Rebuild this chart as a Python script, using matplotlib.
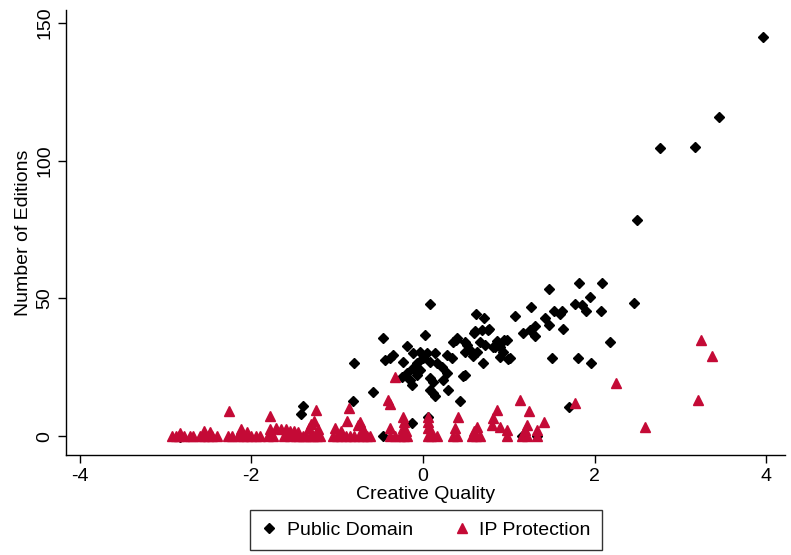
import numpy as np
import matplotlib
matplotlib.use("Agg")
import matplotlib.pyplot as plt

plt.rcParams['font.family'] = ['Liberation Sans', 'DejaVu Sans']
plt.rcParams['axes.unicode_minus'] = False

# ---------- data ----------
# Public Domain (black diamonds): creative quality, number of editions
pd_x = [3.96, 3.45, 3.17, 2.76, 2.49, 2.46, 2.18, 2.09, 2.07, 1.96, 1.95, 1.90, 1.86,
        1.82, 1.81, 1.77, 1.70, 1.62, 1.60, 1.63, 1.53, 1.50, 1.47, 1.47, 1.42, 1.31,
        1.31, 1.25, 1.17, 1.26, 1.07, 1.01, 0.98, 0.93, 0.90, 0.82, 0.72, 0.66, 0.77,
        0.69, 0.61, 0.71, 0.62, 0.58, 0.49, 0.49, 0.40, 0.35, 0.51, 0.70, 0.43, 0.47,
        0.38, 0.08, 0.02, -0.19, -0.47, -0.80, -0.58, -0.82, -1.40, -1.42, -2.83,
        -0.47, -0.13, 0.06, 1.15, 1.33,
        -0.44, -0.38, -0.35, -0.23, -0.12, -0.03, 0.05, 0.14, 0.28, 0.34, 0.00, 0.08,
        -0.07, -0.12, -0.03, 0.16, 0.22, -0.19, -0.24, -0.15, -0.07, -0.13, 0.08, 0.12,
        0.23, 0.28, 0.49, 0.08, 0.12, 0.29, 0.55, 0.63, 0.76, 0.59, 0.86, 0.94, 0.84,
        0.99, 0.90, 0.14]
pd_y = [145, 116, 105, 104.5, 78.5, 48.5, 34, 55.5, 45.5, 26.5, 50.5, 45.5, 47.5,
        55.5, 28.5, 48, 10.5, 45.5, 44.5, 39, 45.5, 28.5, 53.5, 40.5, 43, 40,
        36.5, 38.5, 37.5, 47, 43.5, 28.5, 35, 30.5, 32.5, 32.5, 33, 34, 39,
        38.5, 38, 43, 44.5, 29, 30.5, 34, 35.5, 34, 33, 26.5, 12.7, 21.8,
        35, 48, 36.7, 32.7, 35.6, 26.5, 16, 12.7, 10.9, 8, -0.5,
        0, 4.7, 7, 0, 0,
        27.6, 28.3, 29.4, 26.9, 30.1, 30.5, 30.1, 30.1, 29.4, 28.3, 28.3, 26.9,
        26.5, 24.7, 24.0, 26.5, 25.1, 22.9, 21.4, 20.3, 22.1, 18.5, 21.1, 19.6,
        20.3, 22.9, 22.1, 16.7, 15.6, 16.7, 31.2, 30.5, 38.5, 37.4, 34.5, 34.9, 32.3,
        28, 28.7, 14.5]

# IP Protection (red triangles)
ip_x = [-2.93, -2.88, -2.84, -2.78, -2.72, -2.68, -2.60, -2.55, -2.50, -2.46, -2.40,
        -2.27, -2.22, -2.15, -2.10, -2.05, -2.00, -1.95, -1.90,
        -1.80, -1.75, -1.62, -1.55,
        -1.48, -1.44, -1.40, -1.36, -1.32, -1.28, -1.24, -1.20,
        -1.05, -1.00, -0.95, -0.90, -0.85, -0.80, -0.75, -0.70, -0.65, -0.62,
        -0.38, -0.33, -0.27, -0.22, -0.18,
        0.06, 0.10, 0.16, 0.35, 0.40, 0.57, 0.62, 0.66, 0.98, 1.15, 1.21, 1.33,
        -2.83, -2.55, -2.48, -2.12, -2.05, -1.78, -1.71, -1.65, -1.60, -1.55, -1.50,
        -1.45, -1.33, -1.30, -1.25, -1.27, -1.22, -2.26, -1.78,
        -1.03, -0.95, -0.89, -0.86, -0.76, -0.73, -0.70,
        -0.41, -0.38, -0.33, -0.38, -0.23, -0.22, -0.23, -0.20,
        0.06, 0.06, 0.06, 0.10, 0.41, 0.37, 0.63, 0.60,
        0.86, 0.82, 0.80, 0.90, 0.98, 1.13, 1.24, 1.41, 1.21, 1.19, 1.33,
        1.77, 2.25, 2.59, 3.24, 3.37, 3.21]
ip_y = [0] * 58 + [
        1, 2, 1.5, 2.5, 1.5, 2.5, 3, 2.5, 2.5, 2, 2,
        1.5, 3, 4.5, 9.3, 5.5, 2.5, 9.1, 7.3,
        3, 2, 5.4, 10.3, 4, 5.2, 2.5,
        13, 11.5, 21.4, 3, 6.9, 5, 3, 2,
        5, 3, 7, 2, 7, 3, 3.3, 2,
        9.4, 6.5, 4, 3.3, 2.2, 13.1, 9.1, 5, 4, 2.2, 2.2,
        12, 19.4, 3.2, 35, 29, 13.1]

xticks = [-4, -2, 0, 2, 4]
yticks = [0, 50, 100, 150]

# ---------- plot ----------
fig = plt.figure(figsize=(7.91, 5.55), dpi=100)
ax = fig.add_axes([0.0834, 0.180, 0.909, 0.802])

ax.plot(pd_x, pd_y, ls="none", marker="D", ms=5, color="black", label="Public Domain")
ax.plot(ip_x, ip_y, ls="none", marker="^", ms=6.5, color="#C40A36", label="IP Protection")

ax.set_xlim(-4.16, 4.22)
ax.set_ylim(-6.9, 154.7)
ax.set_xticks(xticks)
ax.set_yticks(yticks)
ax.tick_params(direction="out", length=6, width=1, labelsize=14, color="black", pad=3)
for lab in ax.get_yticklabels():
    lab.set_rotation(90); lab.set_va("center")
ax.spines["top"].set_visible(False)
ax.spines["right"].set_visible(False)
ax.spines["left"].set_linewidth(1)
ax.spines["bottom"].set_linewidth(1)

ax.set_xlabel("Creative Quality", fontsize=14, labelpad=1)
ax.set_ylabel("Number of Editions", fontsize=14, labelpad=3)

leg = fig.legend(loc="center", bbox_to_anchor=(426 / 791, 1 - 530 / 555), ncol=2,
                 fontsize=14, frameon=True, fancybox=False, edgecolor="black",
                 handletextpad=0.5, columnspacing=2.1, borderpad=0.6, handlelength=0.8)
leg.get_frame().set_linewidth(1)

fig.savefig("out.png", dpi=100)
